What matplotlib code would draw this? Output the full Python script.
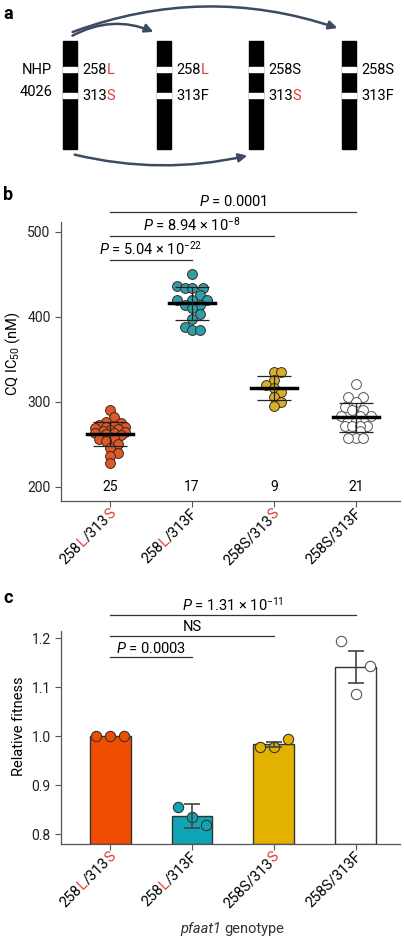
import numpy as np
import matplotlib
matplotlib.use("Agg")
import matplotlib.pyplot as plt
from matplotlib import transforms
from matplotlib.patches import FancyArrowPatch, Rectangle

plt.rcParams['font.family'] = ['Roboto', 'DejaVu Sans']
plt.rcParams['mathtext.fontset'] = 'custom'
plt.rcParams['mathtext.rm'] = 'Roboto'
plt.rcParams['mathtext.it'] = 'Roboto:italic'
plt.rcParams['font.size'] = 10

# ---------------- data ----------------
genotypes = [[("258", "k"), ("L", "#e03c31"), ("/313", "k"), ("S", "#e03c31")],
             [("258", "k"), ("L", "#e03c31"), ("/313F", "k")],
             [("258S/313", "k"), ("S", "#e03c31")],
             [("258S/313F", "k")]]
ic50_red = [291, 282, 277, 275, 273, 272, 271, 270, 269, 268, 267, 266, 265, 264, 263,
            262, 261, 258, 256, 254, 250, 246, 240, 237, 228]
ic50_teal = [451, 437, 434, 434, 434, 426, 420, 420, 420, 414, 414, 410, 404, 398, 388, 385, 385]
ic50_yellow = [335, 335, 326, 320, 316, 312, 306, 300, 295]
ic50_white = [321, 306, 306, 300, 294, 290, 290, 284, 284, 284, 278, 278, 278,
              272, 272, 272, 272, 266, 258, 258, 258]
n_labels = ["25", "17", "9", "21"]
fit_red = [1.0, 1.0, 1.0]
fit_teal = [0.856, 0.836, 0.819]
fit_yellow = [0.978, 0.978, 0.994]
fit_white = [1.195, 1.086, 1.143]
fit_err = [0.0, 0.025, 0.006, 0.032]
b_tests = [(0, 1, 467, r"$\it{P}$ = 5.04 × 10$^{-22}$"),
           (0, 2, 495, r"$\it{P}$ = 8.94 × 10$^{-8}$"),
           (0, 3, 523.5, r"$\it{P}$ = 0.0001")]
c_tests = [(0, 1, 1.161, r"$\it{P}$ = 0.0003"),
           (0, 2, 1.204, "NS"),
           (0, 3, 1.247, r"$\it{P}$ = 1.31 × 10$^{-11}$")]

face_b = ["#e0572a", "#2b9fab", "#d9ae2c", "white"]
face_c = ["#f24e02", "#10a5b4", "#e3b200", "white"]
W, H = 404, 942
fig = plt.figure(figsize=(W / 100, H / 100), dpi=100)
renderer = fig.canvas.get_renderer()
def fr(l, t, w, h):
    return [l / W, 1 - (t + h) / H, w / W, h / H]

# ---------------- panel a ----------------
axa = fig.add_axes([0, 1 - 185 / H, 1, 185 / H])
axa.set_xlim(0, W); axa.set_ylim(185, 0); axa.axis('off')
bars_x = [63, 157, 249, 342]
top_lab = [[("258", "k"), ("L", "#e03c31")], [("258", "k"), ("L", "#e03c31")],
           [("258S", "k")], [("258S", "k")]]
bot_lab = [[("313", "k"), ("S", "#e03c31")], [("313F", "k")],
           [("313", "k"), ("S", "#e03c31")], [("313F", "k")]]
def seg_text(ax, x, y, segs, fs=10.5):
    for s, c in segs:
        t = ax.text(x, y, s, color=c, fontsize=fs, va='center', ha='left')
        x += t.get_window_extent(renderer).width
for bx, tl, bl in zip(bars_x, top_lab, bot_lab):
    axa.add_patch(Rectangle((bx, 41), 14, 108, color='black'))
    for yy in (69, 95):
        axa.add_patch(Rectangle((bx, yy - 2.5), 14, 5, color='white'))
    seg_text(axa, bx + 19, 70, tl)
    seg_text(axa, bx + 19, 96, bl)
axa.text(52, 70, "NHP", ha='right', va='center', fontsize=10.5)
axa.text(52, 92, "4026", ha='right', va='center', fontsize=10.5)
ac = "#3d4a63"
for p0, p1, rad in [((70, 37), (156, 33), -0.25), ((70, 33), (340, 29), -0.18),
                    ((72, 154), (250, 155), 0.12)]:
    axa.add_patch(FancyArrowPatch(p0, p1, connectionstyle=f"arc3,rad={rad}",
                                  arrowstyle='-|>,head_length=5,head_width=2.5',
                                  color=ac, lw=1.8))
for lab, y in [("a", 14), ("b", 195), ("c", 598)]:
    fig.text(3 / W, 1 - y / H, lab, fontsize=13, fontweight='bold', va='center')

# ---------------- helpers ----------------
def style(ax):
    for s in ('top', 'right'):
        ax.spines[s].set_visible(False)
    for s in ('left', 'bottom'):
        ax.spines[s].set_color('#555555'); ax.spines[s].set_linewidth(0.9)
    ax.tick_params(colors='#222222', length=4, width=0.8, color='#555555', labelsize=10)
    ax.set_xticks(range(4)); ax.set_xticklabels([])

def rot_labels(ax, fs=10.5):
    base = transforms.blended_transform_factory(ax.transData, ax.transAxes)
    d = np.array([np.cos(np.pi / 4), np.sin(np.pi / 4)])
    for i, segs in enumerate(genotypes):
        widths = []
        for s, c in segs:
            t = fig.text(0, 0, s, fontsize=fs)
            widths.append(t.get_window_extent(renderer).width); t.remove()
        tot = sum(widths)
        end = np.array([6.0, -13.0])
        start = end - tot * d
        cum = 0
        for (s, c), w in zip(segs, widths):
            off = start + cum * d
            tr = transforms.offset_copy(base, fig, x=off[0], y=off[1], units='dots')
            ax.text(i, 0, s, color=c, fontsize=fs, rotation=45, rotation_mode='anchor',
                    ha='left', va='baseline', transform=tr, clip_on=False)
            cum += w

def sig(ax, tests, dy, fs=10.5):
    for a, b, y, txt in tests:
        ax.plot([a, b], [y, y], color='#333333', lw=0.9, clip_on=False)
        ax.text((a + b) / 2, y + dy, txt, ha='center', va='bottom', fontsize=fs, clip_on=False)

def swarm(vals, sx, sy, diam, maxw):
    vals = np.asarray(vals, float)
    placed = []
    xs = np.zeros(len(vals))
    for i in np.argsort(vals):
        y = vals[i] * sy
        cands = [0]
        for m in range(1, 20):
            cands += [m * diam * 0.5, -m * diam * 0.5]
        cands = [c for c in cands if abs(c) <= maxw]
        best, bestd = 0, -1
        for c in cands:
            dmin = min([np.hypot(c - px, y - py) for px, py in placed] + [1e9])
            if dmin >= diam:
                best = c; break
            if dmin > bestd:
                best, bestd = c, dmin
        placed.append((best, y)); xs[i] = best / sx
    return xs

# ---------------- panel b ----------------
axb = fig.add_axes(fr(61, 206.5, 339, 294.5))
style(axb)
axb.set_xlim(-0.6, 3.54); axb.set_ylim(183.5, 530)
axb.set_yticks([200, 300, 400, 500])
axb.spines['left'].set_bounds(183.5, 512)
axb.set_ylabel(r"CQ IC$_{50}$ (nM)", fontsize=10.5)
for i, vals in enumerate([ic50_red, ic50_teal, ic50_yellow, ic50_white]):
    xs = swarm(vals, 82, 0.85, 7.5, 17)
    ec = '#555555' if i == 3 else '#3a2a1a'
    axb.scatter(i + xs, vals, s=50, facecolor=face_b[i], edgecolor=ec, lw=0.7, zorder=3)
    m, sd = np.mean(vals), np.std(vals, ddof=1)
    axb.plot([i - 0.28, i + 0.28], [m, m], color='black', lw=2.5, zorder=4)
    axb.errorbar(i, m, yerr=sd, color='#222222', lw=0.9, capsize=12, capthick=0.9, zorder=4)
    axb.text(i, 200, n_labels[i], ha='center', va='center', fontsize=10)
sig(axb, b_tests, 3)
rot_labels(axb)

# ---------------- panel c ----------------
axc = fig.add_axes(fr(61, 609, 339, 235))
style(axc)
axc.set_xlim(-0.6, 3.54); axc.set_ylim(0.78, 1.26)
axc.set_yticks([0.8, 0.9, 1.0, 1.1, 1.2])
axc.set_yticklabels(["0.8", "0.9", "1.0", "1.1", "1.2"])
axc.spines['left'].set_bounds(0.78, 1.215)
axc.set_ylabel("Relative fitness", fontsize=10.5)
for i, vals in enumerate([fit_red, fit_teal, fit_yellow, fit_white]):
    m = np.mean(vals)
    axc.bar(i, m - 0.78, bottom=0.78, width=0.5, color=face_c[i], edgecolor='#333333', lw=1.0, zorder=2)
    ec = '#555555' if i == 3 else '#333333'
    o = [-0.17, 0.0, 0.17] if i != 3 else [-0.18, 0.0, 0.17]
    axc.scatter([i + x for x in o], vals, s=55, facecolor=face_c[i], edgecolor=ec, lw=0.8, zorder=4)
    if fit_err[i] > 0:
        axc.errorbar(i, m, yerr=fit_err[i], color='#444444', lw=1.2, capsize=6, capthick=1.2, zorder=5)
sig(axc, c_tests, 0.004)
rot_labels(axc)
t1 = fig.text(180 / W, 1 - 929 / H, "pfaat1", ha='left', va='center', fontsize=10.5,
              style='italic', color='#333333')
w1 = t1.get_window_extent(renderer).width
fig.text((180 + w1 + 3) / W, 1 - 929 / H, "genotype", ha='left', va='center', fontsize=10.5, color='#333333')

fig.savefig("out.png", dpi=100)
